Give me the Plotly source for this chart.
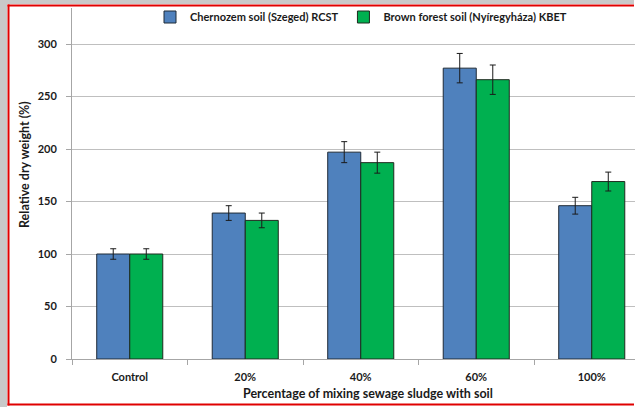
import plotly.graph_objects as go

categories = ["Control", "20%", "40%", "60%", "100%"]
chernozem = [100, 139, 197, 277, 146]
chernozem_err = [5, 7, 10, 14, 8]
brown = [100, 132, 187, 266, 169]
brown_err = [5, 7, 10, 14, 9]
series_names = ["Chernozem soil (Szeged) RCST", "Brown forest soil (Nyíregyháza) KBET"]
y_ticks = [0, 50, 100, 150, 200, 250, 300]
y_title = "Relative dry weight (%)"
x_title = "Percentage of mixing sewage sludge with soil"

W, H = 635, 407
L, T, B = 72, 8, 359  # plot area pixel bounds
PW, PH = W - L, B - T

def px(x):
    return (x - L) / PW

def py(y):
    return (B - y) / PH

FONT = "Lato"
TXT = "#1a1a1a"
RED = "#E00000"
fig = go.Figure()
fig.add_trace(go.Bar(
    x=categories, y=chernozem, name=series_names[0],
    marker=dict(color="#4F81BD", line=dict(color="#1F2A36", width=1)),
    error_y=dict(type="data", array=chernozem_err, color="#1a1a1a", thickness=1, width=3),
))
fig.add_trace(go.Bar(
    x=categories, y=brown, name=series_names[1],
    marker=dict(color="#00B050", line=dict(color="#1F2A1F", width=1)),
    error_y=dict(type="data", array=brown_err, color="#1a1a1a", thickness=1, width=3),
))

def band(x0, x1, y0, y1, color):
    return dict(type="rect", xref="paper", yref="paper", x0=px(x0), x1=px(x1), y0=py(y1), y1=py(y0),
                fillcolor=color, line=dict(width=0), layer="above")

shapes = [
    band(0, 7, 0, H, "#C9C9C9"),      # left shadow
    band(0, W - 1, 0, 4, "#C9C9C9"),  # top shadow
    band(7.5, 9.5, 4.5, 405.5, RED),  # left border
    band(7.5, W - 1, 4.5, 6.5, RED),  # top border
    band(7.5, W - 1, 403.5, 405.5, RED),  # bottom border
]

annotations = [
    dict(text=f"<b>{y_title}</b>", xref="paper", yref="paper", x=px(24), y=py(165),
         xanchor="center", yanchor="middle", textangle=-90, showarrow=False,
         font=dict(family=FONT, size=12.5, color=TXT)),
    dict(text=f"<b>{x_title}</b>", xref="paper", yref="paper", x=px(368), y=py(393),
         xanchor="center", yanchor="middle", showarrow=False,
         font=dict(family=FONT, size=12.5, color=TXT)),
]

fig.update_layout(
    width=W, height=H,
    margin=dict(l=L, r=0, t=T, b=H - B, pad=0),
    paper_bgcolor="white", plot_bgcolor="white",
    barmode="group", bargap=0.428, bargroupgap=0,
    font=dict(family=FONT, size=11, color=TXT),
    legend=dict(orientation="h", x=px(150), xanchor="left", y=py(17), yanchor="middle",
                font=dict(family=FONT, size=11, color=TXT, weight="bold"),
                itemwidth=30, bgcolor="rgba(0,0,0,0)", traceorder="normal"),
    shapes=shapes,
    annotations=annotations,
    xaxis=dict(
        type="category", range=[-0.5, -0.5 + PW / 115.5],
        showline=True, linecolor="#A6A6A6", linewidth=1,
        ticks="outside", tickson="boundaries", ticklen=5, tickcolor="#A6A6A6",
        tickfont=dict(family=FONT, size=11, weight="bold"), ticklabelstandoff=8,
        showgrid=False,
    ),
    yaxis=dict(
        range=[0, PH / 1.05], tickvals=y_ticks,
        showline=True, linecolor="#A6A6A6", linewidth=1,
        ticks="outside", ticklen=5, tickcolor="#A6A6A6",
        tickfont=dict(family=FONT, size=11, weight="bold"), ticklabelstandoff=7,
        showgrid=True, gridcolor="#BFBFBF", gridwidth=1, zeroline=False,
    ),
)

fig.write_html("out.html", config={"displayModeBar": False},
               post_script="document.body.style.margin='0';document.body.style.overflow='hidden';")
